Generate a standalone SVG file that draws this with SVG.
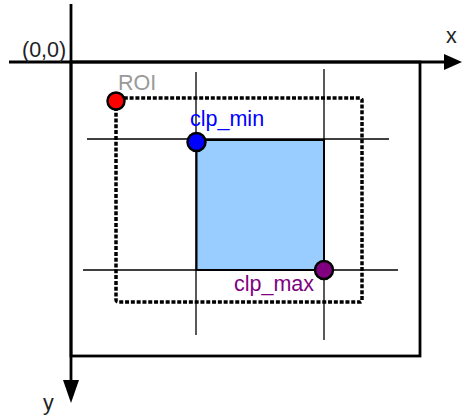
<svg xmlns="http://www.w3.org/2000/svg" width="462" height="416" viewBox="0 0 462 416">
<style>
.lbl{font-family:"Liberation Sans",Arial,sans-serif;font-size:21.5px}
.axis{stroke:#000;stroke-width:2.8;fill:none}
.grid{stroke:#000;stroke-width:1.3;fill:none}
.dot{stroke:#000;stroke-width:2.5}
</style>
<rect width="462" height="416" fill="#fff"/>
<g id="frame">
<rect x="71" y="62" width="349" height="294" fill="none" stroke="#000" stroke-width="2.8"/>
</g>
<g id="clip-region">
<rect x="196.5" y="140" width="127.5" height="130" fill="#99CCFF" stroke="#000" stroke-width="2"/>
</g>
<g id="connectors">
<line class="axis" x1="9" y1="62" x2="445" y2="62"/>
<polygon points="444,54 462,62 444,70" fill="#000"/>
<line class="axis" x1="71" y1="4" x2="71" y2="381"/>
<polygon points="63,380 71,403 79,380" fill="#000"/>
<line class="grid" x1="196" y1="72" x2="196" y2="335"/>
<line class="grid" x1="324" y1="69" x2="324" y2="340"/>
<line class="grid" x1="87" y1="139" x2="389" y2="139"/>
<line class="grid" x1="83" y1="270" x2="398" y2="270"/>
</g>
<g id="roi">
<rect x="116" y="98" width="246" height="204" rx="2" fill="none" stroke="#000" stroke-width="3.5" stroke-dasharray="4,1.8"/>
</g>
<g id="roi-point">
<circle class="dot" cx="116" cy="101" r="8.5" fill="#FF0000"/>
<text class="lbl" x="118" y="90" fill="#999999">ROI</text>
</g>
<g id="clp-min">
<circle class="dot" cx="196.5" cy="142" r="9" fill="#0000FF"/>
<text class="lbl" x="190" y="126" fill="#0000FF">clp_min</text>
</g>
<g id="clp-max">
<circle class="dot" cx="324" cy="270" r="9" fill="#800080"/>
<text class="lbl" x="234" y="291" fill="#800080">clp_max</text>
</g>
<g id="labels">
<text class="lbl" x="22" y="57" fill="#222">(0,0)</text>
<text class="lbl" x="446" y="43" fill="#222">x</text>
<text class="lbl" x="43" y="410" fill="#222">y</text>
</g>
</svg>
